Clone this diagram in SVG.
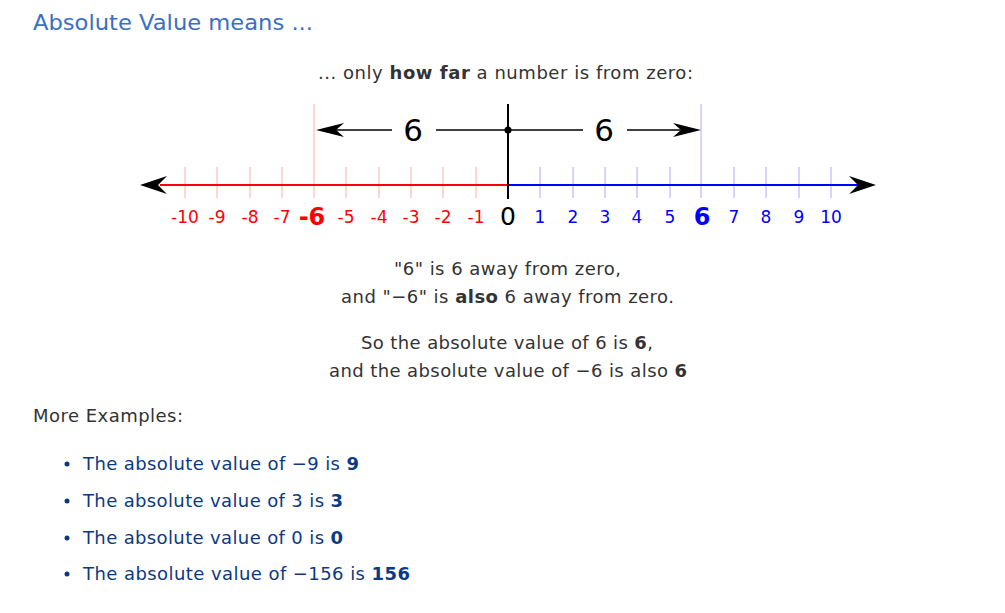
<svg xmlns="http://www.w3.org/2000/svg" width="1005" height="613" viewBox="0 0 1005 613">
<style>
.t{font-family:"DejaVu Sans",Verdana,sans-serif;font-size:18px;fill:#333}
.h{font-family:"DejaVu Sans",Verdana,sans-serif;font-size:22px;fill:#3a6fc4}
.li{font-family:"DejaVu Sans",Verdana,sans-serif;font-size:18px;fill:#0b3a82}
.nr{font-family:"DejaVu Sans",sans-serif;font-size:17px;fill:#ff0000;text-anchor:middle}
.nb{font-family:"DejaVu Sans",sans-serif;font-size:17px;fill:#0000ff;text-anchor:middle}
.big{font-size:24px;font-weight:bold}
.rt{stroke:#ffaaaa;stroke-width:1}
.bt{stroke:#aaaaff;stroke-width:1}
.b{font-weight:bold}
.ln{stroke:#000;stroke-width:1.5}
</style>
<rect width="1005" height="613" fill="#fff"/>
<text class="h" x="33" y="30" textLength="280" lengthAdjust="spacingAndGlyphs">Absolute Value means ...</text>
<text class="t" x="318" y="79" textLength="375" lengthAdjust="spacing">... only <tspan class="b">how far</tspan> a number is from zero:</text>

<g id="numberline">
<g id="ticks">
<line class="rt" x1="185" y1="167" x2="185" y2="198"/>
<line class="rt" x1="217" y1="167" x2="217" y2="198"/>
<line class="rt" x1="250" y1="167" x2="250" y2="198"/>
<line class="rt" x1="282" y1="167" x2="282" y2="198"/>
<line class="rt" x1="314" y1="104" x2="314" y2="198"/>
<line class="rt" x1="346" y1="167" x2="346" y2="198"/>
<line class="rt" x1="379" y1="167" x2="379" y2="198"/>
<line class="rt" x1="411" y1="167" x2="411" y2="198"/>
<line class="rt" x1="443" y1="167" x2="443" y2="198"/>
<line class="rt" x1="476" y1="167" x2="476" y2="198"/>
<line class="bt" x1="540" y1="167" x2="540" y2="198"/>
<line class="bt" x1="573" y1="167" x2="573" y2="198"/>
<line class="bt" x1="605" y1="167" x2="605" y2="198"/>
<line class="bt" x1="637" y1="167" x2="637" y2="198"/>
<line class="bt" x1="670" y1="167" x2="670" y2="198"/>
<line class="bt" x1="701" y1="104" x2="701" y2="198"/>
<line class="bt" x1="734" y1="167" x2="734" y2="198"/>
<line class="bt" x1="766" y1="167" x2="766" y2="198"/>
<line class="bt" x1="799" y1="167" x2="799" y2="198"/>
<line class="bt" x1="831" y1="167" x2="831" y2="198"/>
</g>
<line x1="160" y1="185" x2="508" y2="185" stroke="#ff0000" stroke-width="2"/>
<line x1="508" y1="185" x2="858" y2="185" stroke="#0000ff" stroke-width="2"/>
<path d="M140,185 L167,176 L158,185 L167,194 Z" fill="#000"/>
<path d="M876,185 L849,176 L858,185 L849,194 Z" fill="#000"/>
<line x1="508" y1="104" x2="508" y2="199" stroke="#000" stroke-width="2"/>
<g id="labels">
<text class="nr" x="185" y="223">-10</text>
<text class="nr" x="217" y="223">-9</text>
<text class="nr" x="250" y="223">-8</text>
<text class="nr" x="282" y="223">-7</text>
<text class="nr big" x="312" y="225">-6</text>
<text class="nr" x="346" y="223">-5</text>
<text class="nr" x="379" y="223">-4</text>
<text class="nr" x="411" y="223">-3</text>
<text class="nr" x="443" y="223">-2</text>
<text class="nr" x="476" y="223">-1</text>
<text x="508" y="225" font-family="DejaVu Sans,sans-serif" font-size="25" text-anchor="middle" fill="#000">0</text>
<text class="nb" x="540" y="223">1</text>
<text class="nb" x="573" y="223">2</text>
<text class="nb" x="605" y="223">3</text>
<text class="nb" x="637" y="223">4</text>
<text class="nb" x="670" y="223">5</text>
<text class="nb big" x="702" y="225">6</text>
<text class="nb" x="734" y="223">7</text>
<text class="nb" x="766" y="223">8</text>
<text class="nb" x="799" y="223">9</text>
<text class="nb" x="831" y="223">10</text>
</g>
</g>

<g id="connectors">
<line class="ln" x1="330" y1="130" x2="392" y2="130"/>
<path d="M316,130 L344,123 L336,130 L344,137 Z" fill="#000"/>
<line class="ln" x1="436" y1="130" x2="508" y2="130"/>
<line class="ln" x1="508" y1="130" x2="583" y2="130"/>
<line class="ln" x1="627" y1="130" x2="690" y2="130"/>
<path d="M701,130 L673,123 L681,130 L673,137 Z" fill="#000"/>
<circle cx="508" cy="130" r="3.5" fill="#000"/>
<text x="413" y="141" font-family="DejaVu Sans,sans-serif" font-size="31" text-anchor="middle" fill="#000">6</text>
<text x="604" y="141" font-family="DejaVu Sans,sans-serif" font-size="31" text-anchor="middle" fill="#000">6</text>
</g>

<text class="t" x="394" y="275" textLength="227" lengthAdjust="spacing">"6" is 6 away from zero,</text>
<text class="t" x="341" y="303" textLength="333" lengthAdjust="spacing">and "−6" is <tspan class="b">also</tspan> 6 away from zero.</text>
<text class="t" x="361" y="349" textLength="292" lengthAdjust="spacing">So the absolute value of 6 is <tspan class="b">6</tspan>,</text>
<text class="t" x="329" y="377" textLength="358" lengthAdjust="spacing">and the absolute value of −6 is also <tspan class="b">6</tspan></text>
<text class="t" x="33" y="422" textLength="150" lengthAdjust="spacing">More Examples:</text>
<g id="list">
<circle cx="67" cy="464" r="2.5" fill="#0b3a82"/>
<text class="li" x="83" y="470" textLength="276" lengthAdjust="spacing">The absolute value of −9 is <tspan class="b">9</tspan></text>
<circle cx="67" cy="501" r="2.5" fill="#0b3a82"/>
<text class="li" x="83" y="507" textLength="260" lengthAdjust="spacing">The absolute value of 3 is <tspan class="b">3</tspan></text>
<circle cx="67" cy="538" r="2.5" fill="#0b3a82"/>
<text class="li" x="83" y="544" textLength="260" lengthAdjust="spacing">The absolute value of 0 is <tspan class="b">0</tspan></text>
<circle cx="67" cy="574" r="2.5" fill="#0b3a82"/>
<text class="li" x="83" y="580" textLength="327" lengthAdjust="spacing">The absolute value of −156 is <tspan class="b">156</tspan></text>
</g>
</svg>
